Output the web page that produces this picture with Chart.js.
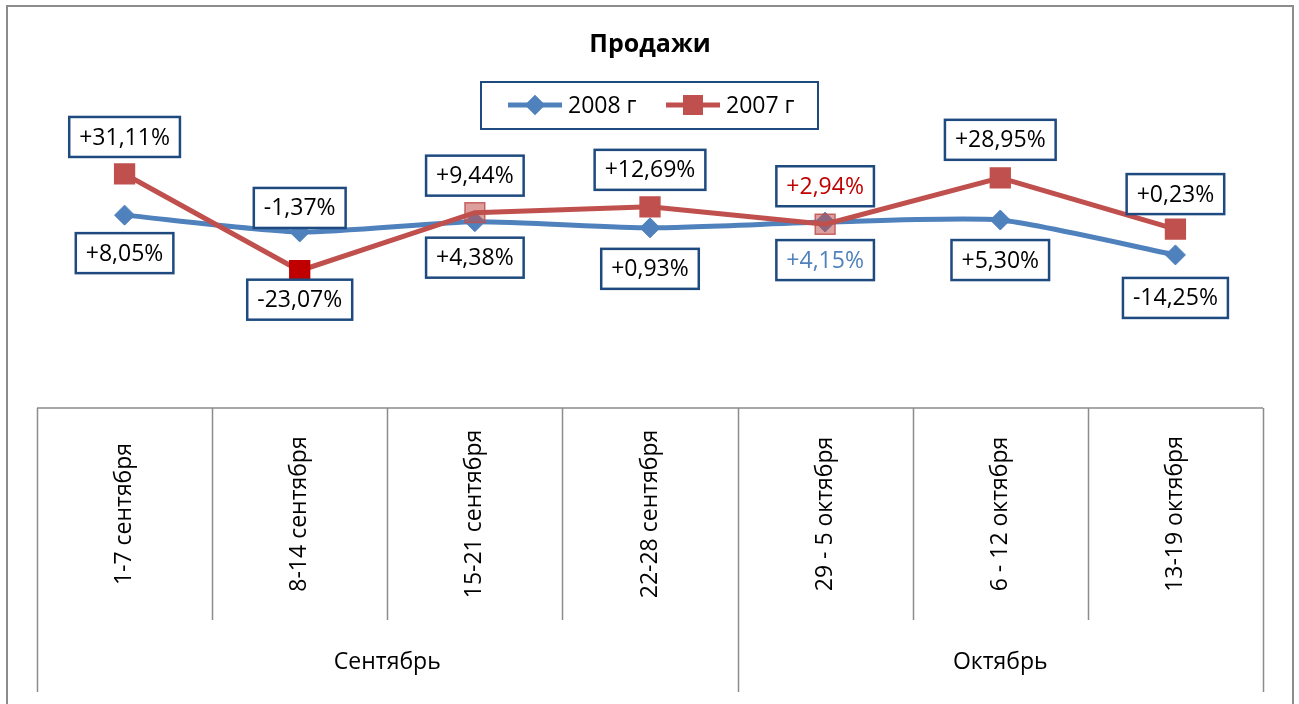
<!DOCTYPE html>
<html>
<head>
<meta charset="utf-8">
<script src="https://cdn.jsdelivr.net/npm/chart.js@4/dist/chart.umd.min.js"></script>
<style>
  html, body { margin: 0; padding: 0; background: #fff; }
  #wrap { width: 1299px; height: 704px; }
</style>
</head>
<body>
<div id="wrap"><canvas id="chart" width="1299" height="704"></canvas></div>
<script>
// data
const weeks = ['1-7 сентября', '8-14 сентября', '15-21 сентября', '22-28 сентября', '29 - 5 октября', '6 - 12 октября', '13-19 октября'];
const months = ['Сентябрь', 'Октябрь'];
const monthSpans = [4, 3];
const sales2008 = [8.05, -1.37, 4.38, 0.93, 4.15, 5.30, -14.25];
const sales2007 = [31.11, -23.07, 9.44, 12.69, 2.94, 28.95, 0.23];
const seriesNames = ['2008 г', '2007 г'];
const chartTitle = 'Продажи';

// styles
const FONT = '"Open Sans", "Noto Sans", sans-serif';
const BLUE = '#4F81BD';
const RED = '#C0504D';
const BOX = '#1F4A80';
const GRID = '#8C8C8C';

// label offsets (px from point) and text colours
const offs2008 = [38, -24, 36, 41, 38, 40, 43];
const offs2007 = [-37, 29, -37, -37, -38, -38, -35];
const txt2008 = ['#000', '#000', '#000', '#000', BLUE, '#000', '#000'];
const txt2007 = ['#000', '#000', '#000', '#000', '#C00000', '#000', '#000'];

const redFill = [RED, '#C00000', 'rgba(192,80,77,0.55)', RED, 'rgba(192,80,77,0.55)', RED, RED];
const redBorder = [RED, '#C00000', 'rgba(192,80,77,0.85)', RED, 'rgba(192,80,77,0.85)', RED, RED];

function fmt(v) {
  return (v > 0 ? '+' : '') + v.toFixed(2).replace('.', ',') + '%';
}

const decor = {
  id: 'decor',
  beforeDraw(chart) {
    const ctx = chart.ctx;
    ctx.save();
    ctx.fillStyle = '#fff';
    ctx.fillRect(0, 0, chart.width, chart.height);
    ctx.strokeStyle = '#8C8C8C';
    ctx.lineWidth = 2;
    ctx.strokeRect(7, 6, 1286, 760);
    ctx.restore();
  },
  afterDraw(chart) {
    const ctx = chart.ctx;
    const x = chart.scales.x;
    const area = chart.chartArea;
    const step = x.getPixelForValue(1) - x.getPixelForValue(0);
    const top = area.bottom;
    const mid = 620, bot = 692;
    ctx.save();

    // category table
    ctx.strokeStyle = GRID;
    ctx.lineWidth = 1.5;
    ctx.beginPath();
    ctx.moveTo(area.left, top);
    ctx.lineTo(area.right, top);
    const groupEdges = [0];
    monthSpans.reduce((a, n) => { groupEdges.push(a + n); return a + n; }, 0);
    for (let i = 0; i <= weeks.length; i++) {
      const bx = Math.round(x.getPixelForValue(i) - step / 2) + 0.5;
      ctx.moveTo(bx, top);
      ctx.lineTo(bx, groupEdges.includes(i) ? bot : mid);
    }
    ctx.stroke();

    ctx.fillStyle = '#000';
    ctx.font = '23px ' + FONT;
    ctx.textAlign = 'center';
    ctx.textBaseline = 'middle';
    weeks.forEach((w, i) => {
      ctx.save();
      ctx.translate(x.getPixelForValue(i), (top + mid) / 2);
      ctx.rotate(-Math.PI / 2);
      ctx.fillText(w, 0, 0);
      ctx.restore();
    });
    let start = 0;
    months.forEach((m, k) => {
      const a = x.getPixelForValue(start) - step / 2;
      const b = x.getPixelForValue(start + monthSpans[k] - 1) + step / 2;
      ctx.fillText(m, (a + b) / 2, 662);
      start += monthSpans[k];
    });

    // title
    ctx.font = 'bold 25px ' + FONT;
    ctx.fillText(chartTitle, 650, 45);

    // legend
    ctx.strokeStyle = BOX;
    ctx.lineWidth = 2;
    ctx.strokeRect(481, 82, 337, 47);
    const items = [
      { c: BLUE, style: 'rectRot', r: 10, x0: 508 },
      { c: RED, style: 'rect', r: 14, x0: 666 }
    ];
    ctx.font = '23px ' + FONT;
    ctx.textAlign = 'left';
    items.forEach((it, k) => {
      ctx.strokeStyle = it.c;
      ctx.lineWidth = 5;
      ctx.beginPath();
      ctx.moveTo(it.x0, 105);
      ctx.lineTo(it.x0 + 54, 105);
      ctx.stroke();
      ctx.fillStyle = it.c;
      Chart.helpers.drawPoint(ctx, { pointStyle: it.style, radius: it.r, borderWidth: 0 }, it.x0 + 27, 105);
      ctx.fill();
      ctx.fillStyle = '#000';
      ctx.fillText(seriesNames[k], it.x0 + 60, 106);
    });

    // data labels
    const sets = [
      { meta: chart.getDatasetMeta(1), vals: sales2008, offs: offs2008, col: txt2008 },
      { meta: chart.getDatasetMeta(0), vals: sales2007, offs: offs2007, col: txt2007 }
    ];
    ctx.textAlign = 'center';
    ctx.textBaseline = 'middle';
    sets.forEach(s => {
      s.meta.data.forEach((pt, i) => {
        const t = fmt(s.vals[i]);
        const w = ctx.measureText(t).width + 20;
        const h = 40;
        const cx = pt.x, cy = pt.y + s.offs[i];
        ctx.fillStyle = '#fff';
        ctx.fillRect(cx - w / 2, cy - h / 2, w, h);
        ctx.strokeStyle = BOX;
        ctx.lineWidth = 2.5;
        ctx.strokeRect(cx - w / 2, cy - h / 2, w, h);
        ctx.fillStyle = s.col[i];
        ctx.fillText(t, cx, cy + 1);
      });
    });
    ctx.restore();
  }
};

new Chart(document.getElementById('chart'), {
  type: 'line',
  data: {
    labels: weeks,
    datasets: [
      {
        label: seriesNames[1],
        data: sales2007,
        borderColor: RED,
        borderWidth: 5,
        pointStyle: 'rect',
        pointRadius: 14,
        pointBackgroundColor: redFill,
        pointBorderColor: redBorder,
        pointBorderWidth: 1.5,
        tension: 0
      },
      {
        label: seriesNames[0],
        data: sales2008,
        borderColor: BLUE,
        borderWidth: 5,
        pointStyle: 'rectRot',
        pointRadius: 10,
        pointBackgroundColor: BLUE,
        pointBorderColor: BLUE,
        pointBorderWidth: 1,
        tension: 0.2
      }
    ]
  },
  options: {
    responsive: false,
    animation: false,
    layout: { padding: { left: 37, right: 36, top: 51, bottom: 296 } },
    scales: {
      x: { display: false, offset: true },
      y: { display: false, min: -100, max: 100 }
    },
    plugins: {
      legend: { display: false },
      title: { display: false },
      tooltip: { enabled: false }
    }
  },
  plugins: [decor]
});
</script>
</body>
</html>
